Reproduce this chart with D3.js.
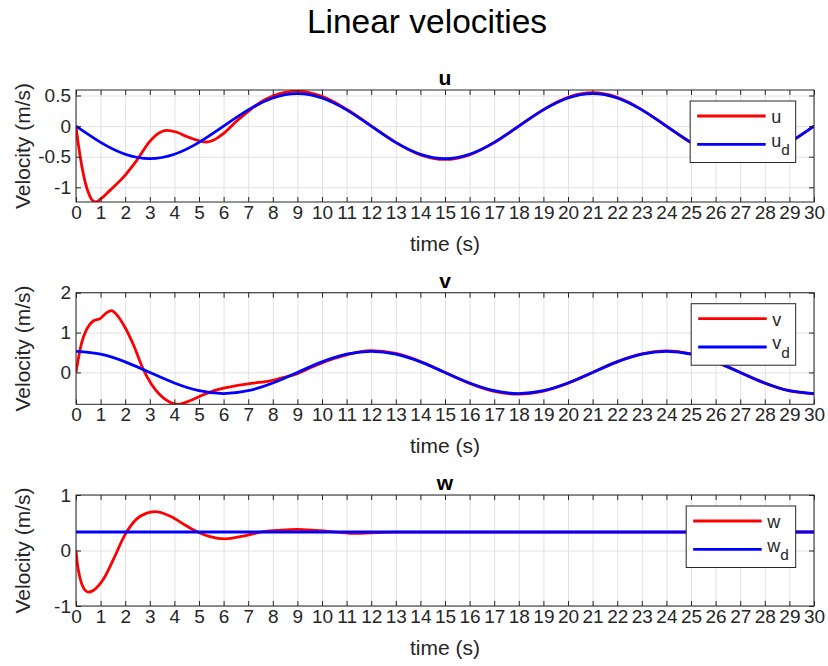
<!DOCTYPE html>
<html>
<head>
<meta charset="utf-8">
<script src="https://cdn.jsdelivr.net/npm/d3@7"></script>
<style>
  body { margin: 0; background: #fff; }
  svg { display: block; font-family: "Liberation Sans", Arial, Helvetica, sans-serif; }
</style>
</head>
<body>
<div id="chart"></div>
<script>
// ---- data ----
const timeTicks = [0, 1, 2, 3, 4, 5, 6, 7, 8, 9, 10, 11, 12, 13, 14, 15, 16, 17, 18, 19, 20,
    21, 22, 23, 24, 25, 26, 27, 28, 29, 30];

// desired signals, sampled every second
const desiredT = [0, 1, 2, 3, 4, 5, 6, 7, 8, 9, 10, 11, 12, 13, 14, 15, 16, 17, 18, 19, 20,
    21, 22, 23, 24, 25, 26, 27, 28, 29, 30];
const uDesired = [0, -0.265, -0.459, -0.53, -0.459, -0.265, 0, 0.265, 0.459, 0.53, 0.459,
    0.265, 0, -0.265, -0.459, -0.53, -0.459, -0.265, 0, 0.265, 0.459, 0.53, 0.459, 0.265, 0,
    -0.265, -0.459, -0.53, -0.459, -0.265, 0];
const vDesired = [0.53, 0.459, 0.265, 0, -0.265, -0.459, -0.53, -0.459, -0.265, 0, 0.265,
    0.459, 0.53, 0.459, 0.265, 0, -0.265, -0.459, -0.53, -0.459, -0.265, 0, 0.265, 0.459,
    0.53, 0.459, 0.265, 0, -0.265, -0.459, -0.53];
const wDesiredT = [0, 30];
const wDesired = [0.333, 0.333];

// actual signals
const uT = [0, 0.1, 0.23, 0.37, 0.5, 0.64, 0.81, 1.0, 1.38, 2.0, 2.47, 3.0, 3.28, 3.69, 4.1,
    4.5, 4.97, 5.31, 5.72, 6.0, 6.5, 7.0, 7.5, 8.0, 8.5, 9, 10, 11, 12, 13, 14, 15, 16, 17,
    18, 19, 20, 21, 22, 23, 24, 25, 26, 27, 28, 29, 30];
const uActual = [0, -0.31, -0.64, -0.91, -1.08, -1.2, -1.24, -1.19, -1.05, -0.80, -0.56,
    -0.25, -0.14, -0.07, -0.10, -0.17, -0.235, -0.26, -0.20, -0.12, 0.07, 0.24, 0.39, 0.49,
    0.55, 0.57, 0.485, 0.275, 0.005, -0.27, -0.47, -0.545, -0.47, -0.27, 0, 0.27, 0.47, 0.545,
    0.47, 0.27, 0, -0.27, -0.465, -0.54, -0.465, -0.27, 0];

const vT = [0, 0.1, 0.23, 0.43, 0.7, 0.98, 1.25, 1.45, 1.65, 2.0, 2.33, 2.74, 3.08, 3.41,
    3.82, 4.16, 4.63, 5.18, 5.72, 6.12, 6.53, 7.2, 7.89, 8.4, 9, 9.5, 10, 10.5, 11, 11.5, 12,
    13, 14, 15, 16, 17, 18, 19, 20, 21, 22, 23, 24, 25, 26, 27, 28, 29, 30];
const vActual = [0, 0.36, 0.74, 1.08, 1.29, 1.35, 1.50, 1.55, 1.45, 1.12, 0.70, 0.07, -0.31,
    -0.56, -0.75, -0.80, -0.71, -0.56, -0.44, -0.38, -0.33, -0.27, -0.21, -0.13, -0.03, 0.11,
    0.24, 0.35, 0.44, 0.51, 0.545, 0.475, 0.275, 0, -0.275, -0.475, -0.545, -0.47, -0.27, 0,
    0.27, 0.465, 0.54, 0.465, 0.27, 0, -0.27, -0.465, -0.535];

const wT = [0, 0.05, 0.16, 0.3, 0.5, 0.7, 1.11, 1.52, 2.0, 2.47, 2.85, 3.21, 3.82, 4.5, 4.97,
    5.45, 6.06, 6.8, 7.6, 8.16, 8.97, 9.78, 10.6, 11.27, 12, 13, 30];
const wActual = [0, -0.22, -0.49, -0.67, -0.75, -0.72, -0.52, -0.16, 0.29, 0.57, 0.67, 0.70,
    0.62, 0.44, 0.33, 0.25, 0.21, 0.26, 0.34, 0.36, 0.38, 0.36, 0.33, 0.31, 0.32, 0.33, 0.333];

const uTicks = [-1, -0.5, 0, 0.5];
const vTicks = [0, 1, 2];
const wTicks = [-1, 0, 1];

// ---- layout ----
const width = 828, height = 666;
const left = 76, right = 814;
const textColor = "#262626";
const tickFont = 19, labelFont = 21, legendFont = 18;

const svg = d3.select("#chart").append("svg")
    .attr("width", width)
    .attr("height", height);

svg.append("text")
    .attr("x", 427)
    .attr("y", 33)
    .attr("text-anchor", "middle")
    .attr("font-size", 33.5)
    .attr("fill", "#000")
    .text("Linear velocities");

let x = d3.scaleLinear().domain([0, 30]).range([left, right]);

let panels = [
    {name: "u", top: 90, bottom: 202, yDomain: [-1.24, 0.59], yTicks: uTicks,
        actualT: uT, actual: uActual, desT: desiredT, des: uDesired},
    {name: "v", top: 292.7, bottom: 404.3, yDomain: [-0.8, 2], yTicks: vTicks,
        actualT: vT, actual: vActual, desT: desiredT, des: vDesired},
    {name: "w", top: 495, bottom: 606, yDomain: [-1, 1], yTicks: wTicks,
        actualT: wT, actual: wActual, desT: wDesiredT, des: wDesired}
];

panels.forEach(drawPanel);

function drawPanel(p, i) {
    let y = d3.scaleLinear().domain(p.yDomain).range([p.bottom, p.top]);
    let h = p.bottom - p.top, w = right - left;
    let g = svg.append("g");

    // grid
    g.append("g")
        .attr("transform", "translate(0," + p.bottom + ")")
        .call(d3.axisBottom(x).tickValues(timeTicks).tickSize(-h).tickFormat(""))
        .call(s => s.select(".domain").remove())
        .selectAll("line").attr("stroke", "#e1e1e1");
    g.append("g")
        .attr("transform", "translate(" + left + ",0)")
        .call(d3.axisLeft(y).tickValues(p.yTicks).tickSize(-w).tickFormat(""))
        .call(s => s.select(".domain").remove())
        .selectAll("line").attr("stroke", "#e1e1e1");

    // lines
    g.append("clipPath").attr("id", "clip" + i)
        .append("rect").attr("x", left).attr("y", p.top).attr("width", w).attr("height", h);

    let actualLine = d3.line()
        .x((d, k) => x(p.actualT[k]))
        .y(d => y(d))
        .curve(d3.curveMonotoneX);
    let desiredLine = d3.line()
        .x((d, k) => x(p.desT[k]))
        .y(d => y(d))
        .curve(d3.curveNatural);

    let plot = g.append("g").attr("clip-path", "url(#clip" + i + ")");
    plot.append("path")
        .attr("d", actualLine(p.actual))
        .attr("fill", "none").attr("stroke", "#ff0000").attr("stroke-width", 2.8);
    plot.append("path")
        .attr("d", desiredLine(p.des))
        .attr("fill", "none").attr("stroke", "#0000ff").attr("stroke-width", 2.8);

    // box + ticks on all four sides
    g.append("rect")
        .attr("x", left).attr("y", p.top).attr("width", w).attr("height", h)
        .attr("fill", "none").attr("stroke", textColor).attr("stroke-width", 1);

    let bottomAxis = g.append("g")
        .attr("transform", "translate(0," + p.bottom + ")")
        .call(d3.axisBottom(x).tickValues(timeTicks).tickSizeInner(-5).tickSizeOuter(0).tickPadding(3.5));
    g.append("g")
        .attr("transform", "translate(0," + p.top + ")")
        .call(d3.axisTop(x).tickValues(timeTicks).tickSizeInner(-5).tickSizeOuter(0).tickFormat(""));
    let leftAxis = g.append("g")
        .attr("transform", "translate(" + left + ",0)")
        .call(d3.axisLeft(y).tickValues(p.yTicks).tickSizeInner(-5).tickSizeOuter(0).tickPadding(5)
            .tickFormat(d => String(d)));
    g.append("g")
        .attr("transform", "translate(" + right + ",0)")
        .call(d3.axisRight(y).tickValues(p.yTicks).tickSizeInner(-5).tickSizeOuter(0).tickFormat(""));

    g.selectAll(".domain").remove();
    g.selectAll(".tick line").filter(function () { return this.getAttribute("stroke") === "currentColor"; })
        .attr("stroke", textColor);
    [bottomAxis, leftAxis].forEach(a => a.selectAll("text")
        .attr("fill", textColor)
        .attr("font-size", tickFont)
        .attr("font-family", "Liberation Sans, Arial, sans-serif"));

    // labels
    g.append("text")
        .attr("x", (left + right) / 2)
        .attr("y", p.bottom + 49)
        .attr("text-anchor", "middle")
        .attr("font-size", labelFont)
        .attr("fill", textColor)
        .text("time (s)");
    g.append("text")
        .attr("transform", "translate(30," + ((p.top + p.bottom) / 2) + ") rotate(-90)")
        .attr("text-anchor", "middle")
        .attr("font-size", labelFont)
        .attr("fill", textColor)
        .text("Velocity (m/s)");
    g.append("text")
        .attr("x", (left + right) / 2)
        .attr("y", p.top - 5)
        .attr("text-anchor", "middle")
        .attr("font-size", labelFont)
        .attr("font-weight", "bold")
        .attr("fill", "#000")
        .text(p.name);

    // legend
    let lg = g.append("g");
    let box = lg.append("rect")
        .attr("fill", "#fff").attr("stroke", textColor).attr("stroke-width", 1);
    let rows = [{color: "#ff0000", sub: null, ly: 15}, {color: "#0000ff", sub: "d", ly: 43.3}];
    let texts = lg.append("g");
    rows.forEach(r => {
        lg.append("line")
            .attr("x1", 7).attr("x2", 75.5).attr("y1", r.ly).attr("y2", r.ly)
            .attr("stroke", r.color).attr("stroke-width", 2.8);
        let t = texts.append("text")
            .attr("x", 81)
            .attr("y", r.ly + (r.sub ? 2.5 : 7))
            .attr("font-size", legendFont)
            .attr("fill", textColor)
            .text(p.name);
        if (r.sub) {
            t.append("tspan").attr("dy", 8.5).attr("font-size", legendFont * 0.85).text(r.sub);
        }
    });
    let tw = texts.node().getBBox().width;
    let bw = 81 + tw + 6;
    box.attr("x", 0).attr("y", 0).attr("width", bw).attr("height", 61.5);
    lg.attr("transform", "translate(" + (right - 18.3 - bw) + "," + (p.top + 11) + ")");
}
</script>
</body>
</html>
